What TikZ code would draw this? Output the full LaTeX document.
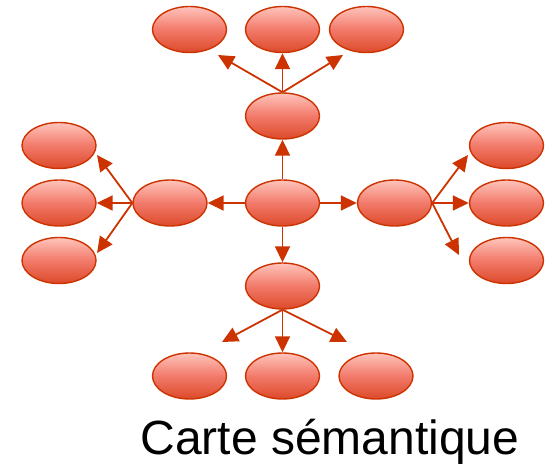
\documentclass[tikz,border=0pt]{standalone}
\usepackage{fontspec}
\setmainfont{Liberation Sans}
\usetikzlibrary{shapes.geometric,arrows.meta}

\definecolor{edgered}{HTML}{CC3300}
\definecolor{toppink}{HTML}{FFC4BC}
\definecolor{midred}{HTML}{F27A6A}
\definecolor{lowred}{HTML}{DC4A2A}

\tikzset{
  bubble/.style={ellipse, draw=edgered, line width=1.4bp, minimum width=74bp,
    minimum height=46bp, inner sep=0pt, top color=toppink, bottom color=lowred,
    middle color=midred},
  link/.style={draw=edgered, line width=1.8bp, -{Triangle[length=16bp,width=15bp]}}
}

\begin{document}
\begin{tikzpicture}[x=1bp,y=-1bp]
  \useasboundingbox (0,0) rectangle (555,465);

  % centre and its four branches
  \node[bubble] (c) at (282.5,203) {};
  \node[bubble] (t) at (282.5,116) {};
  \node[bubble] (b) at (282.5,286) {};
  \node[bubble] (l) at (170,203) {};
  \node[bubble] (r) at (394.5,203) {};

  % leaves
  \node[bubble] (t1) at (189.5,29.5) {};
  \node[bubble] (t2) at (282.5,29.5) {};
  \node[bubble] (t3) at (366.5,29.5) {};
  \node[bubble] (l1) at (59,145.5) {};
  \node[bubble] (l2) at (59,203) {};
  \node[bubble] (l3) at (59,260.5) {};
  \node[bubble] (r1) at (506.5,145.5) {};
  \node[bubble] (r2) at (506.5,203) {};
  \node[bubble] (r3) at (506.5,260.5) {};
  \node[bubble] (b1) at (189.5,376) {};
  \node[bubble] (b2) at (282.5,376) {};
  \node[bubble] (b3) at (376,376) {};

  % where the fanned arrows stop
  \coordinate (t1e) at (218,55);
  \coordinate (t3e) at (343,55);
  \coordinate (l1e) at (97,155);
  \coordinate (l3e) at (97,253);
  \coordinate (r1e) at (468,155);
  \coordinate (r3e) at (459,255);
  \coordinate (b1e) at (222,342);
  \coordinate (b3e) at (347,342);

  \draw[link] (c) -- (t);
  \draw[link] (c) -- (b);
  \draw[link] (c) -- (l);
  \draw[link] (c) -- (r);

  \draw[link] (t.north) -- (t1e);
  \draw[link] (t.north) -- (t2);
  \draw[link] (t.north) -- (t3e);
  \draw[link] (l.west) -- (l1e);
  \draw[link] (l.west) -- (l2);
  \draw[link] (l.west) -- (l3e);
  \draw[link] (r.east) -- (r1e);
  \draw[link] (r.east) -- (r2);
  \draw[link] (r.east) -- (r3e);
  \draw[link] (b.south) -- (b1e);
  \draw[link] (b.south) -- (b2);
  \draw[link] (b.south) -- (b3e);

  \node[anchor=base, font=\fontsize{48bp}{56bp}\selectfont] (title) at (330,454) {Carte sémantique};
\end{tikzpicture}
\end{document}
